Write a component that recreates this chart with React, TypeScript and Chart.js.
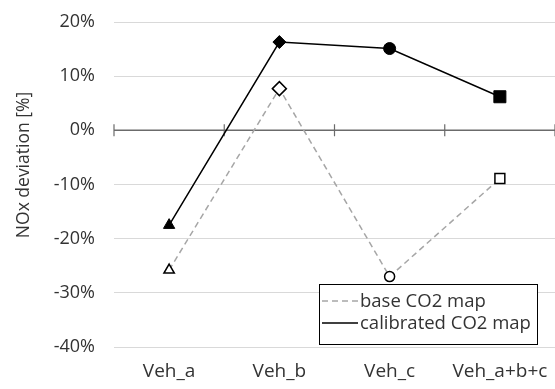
import { useEffect, useRef } from 'react';
import { Chart, registerables } from 'chart.js';

Chart.register(...registerables);

const categories = ['Veh_a', 'Veh_b', 'Veh_c', 'Veh_a+b+c'];
const baseCO2Map = [-25.8, 7.7, -27.0, -8.9];
const calibratedCO2Map = [-17.5, 16.3, 15.1, 6.2];
const markerStyles = ['triangle', 'rectRot', 'circle', 'rect'];
const seriesNames = ['base CO2 map', 'calibrated CO2 map'];
const yMin = -40;
const yMax = 20;
const yStep = 10;
const yTitle = 'NOx deviation [%]';

const FONT = "'Open Sans', 'Liberation Sans', sans-serif";
const TEXT = '#333333';

// Horizontal axis through 0% with tick marks crossing it at category boundaries
const zeroAxisPlugin = {
  id: 'zeroAxis',
  beforeDatasetsDraw(chart: any) {
    const { ctx, chartArea, scales } = chart;
    const x = scales.x;
    const y0 = scales.y.getPixelForValue(0);
    ctx.save();
    ctx.strokeStyle = '#6b6b6b';
    ctx.lineWidth = 1.5;
    ctx.beginPath();
    ctx.moveTo(chartArea.left, y0);
    ctx.lineTo(chartArea.right, y0);
    ctx.stroke();
    const n = categories.length;
    const bounds: number[] = [chartArea.left];
    for (let i = 1; i < n; i++) {
      bounds.push((x.getPixelForValue(i - 1) + x.getPixelForValue(i)) / 2);
    }
    bounds.push(chartArea.right);
    ctx.lineWidth = 1.2;
    ctx.beginPath();
    bounds.forEach((bx) => {
      ctx.moveTo(bx, y0 - 6);
      ctx.lineTo(bx, y0 + 6);
    });
    ctx.stroke();
    ctx.restore();
  },
};

// Rotated y-axis caption
const yTitlePlugin = {
  id: 'yTitle',
  afterDraw(chart: any) {
    const { ctx, chartArea } = chart;
    ctx.save();
    ctx.translate(chartArea.left - 90, chartArea.top + 143);
    ctx.rotate(-Math.PI / 2);
    ctx.font = `17.5px ${FONT}`;
    ctx.fillStyle = TEXT;
    ctx.textAlign = 'center';
    ctx.textBaseline = 'middle';
    ctx.fillText(yTitle, 0, 0);
    ctx.restore();
  },
};

// Boxed legend in the lower right of the plot
const boxLegendPlugin = {
  id: 'boxLegend',
  afterDraw(chart: any) {
    const { ctx, chartArea } = chart;
    const w = 218;
    const h = 60;
    const right = chartArea.right - 18;
    const bottom = chartArea.bottom - 3;
    const left = right - w;
    const top = bottom - h;
    ctx.save();
    ctx.fillStyle = '#ffffff';
    ctx.fillRect(left, top, w, h);
    ctx.strokeStyle = '#000000';
    ctx.lineWidth = 1;
    ctx.strokeRect(left + 0.5, top + 0.5, w, h);
    ctx.font = `18.5px ${FONT}`;
    ctx.textBaseline = 'middle';
    ctx.textAlign = 'left';
    chart.data.datasets.forEach((ds: any, i: number) => {
      const cy = top + 17 + i * 22;
      ctx.strokeStyle = ds.borderColor;
      ctx.lineWidth = ds.borderWidth;
      ctx.setLineDash(ds.borderDash || []);
      ctx.beginPath();
      ctx.moveTo(left + 3, cy);
      ctx.lineTo(left + 39, cy);
      ctx.stroke();
      ctx.setLineDash([]);
      ctx.fillStyle = TEXT;
      ctx.fillText(ds.label, left + 41, cy + 1);
    });
    ctx.restore();
  },
};

export default function App() {
  const canvasRef = useRef<HTMLCanvasElement | null>(null);

  useEffect(() => {
    document.body.style.margin = '0';
    const canvas = canvasRef.current;
    if (!canvas) return;
    const chart = new Chart(canvas, {
      type: 'line',
      data: {
        labels: categories,
        datasets: [
          {
            label: seriesNames[0],
            data: baseCO2Map,
            borderColor: '#a6a6a6',
            borderWidth: 1.5,
            borderDash: [6, 4],
            pointStyle: markerStyles as any,
            pointRadius: [6, 7, 5, 7],
            pointBackgroundColor: '#ffffff',
            pointBorderColor: '#000000',
            pointBorderWidth: 1.5,
            tension: 0,
          },
          {
            label: seriesNames[1],
            data: calibratedCO2Map,
            borderColor: '#000000',
            borderWidth: 1.5,
            pointStyle: markerStyles as any,
            pointRadius: [6.5, 6.5, 6, 8.5],
            pointBackgroundColor: '#000000',
            pointBorderColor: '#000000',
            pointBorderWidth: 1,
            tension: 0,
          },
        ],
      },
      options: {
        responsive: false,
        animation: false,
        layout: { autoPadding: false, padding: { top: 22, right: -3, bottom: 0, left: 0 } },
        plugins: {
          legend: { display: false },
          tooltip: { enabled: false },
        },
        scales: {
          x: {
            type: 'category',
            offset: true,
            grid: { display: false, drawTicks: true, tickLength: 13 },
            border: { display: false },
            ticks: {
              color: TEXT,
              font: { family: FONT, size: 19 },
              padding: 0,
              maxRotation: 0,
              autoSkip: false,
            },
            afterFit: (scale: any) => {
              scale.height = 42;
              scale.paddingLeft = 0;
              scale.paddingRight = 0;
            },
          },
          y: {
            min: yMin,
            max: yMax,
            border: { display: false },
            grid: {
              drawTicks: false,
              lineWidth: 1,
              color: (c: any) => (c.tick && c.tick.value === 0 ? 'rgba(0,0,0,0)' : '#d9d9d9'),
            },
            ticks: {
              stepSize: yStep,
              color: TEXT,
              font: { family: FONT, size: 18 },
              padding: 19,
              callback: (v: any) => `${v}%`,
            },
            afterFit: (scale: any) => {
              scale.width = 114;
              scale.paddingTop = 0;
              scale.paddingBottom = 0;
            },
          },
        },
      },
      plugins: [zeroAxisPlugin, yTitlePlugin, boxLegendPlugin],
    });
    return () => chart.destroy();
  }, []);

  return (
    <div style={{ width: 555, height: 389, background: '#fff' }}>
      <canvas ref={canvasRef} width={555} height={389} />
    </div>
  );
}
